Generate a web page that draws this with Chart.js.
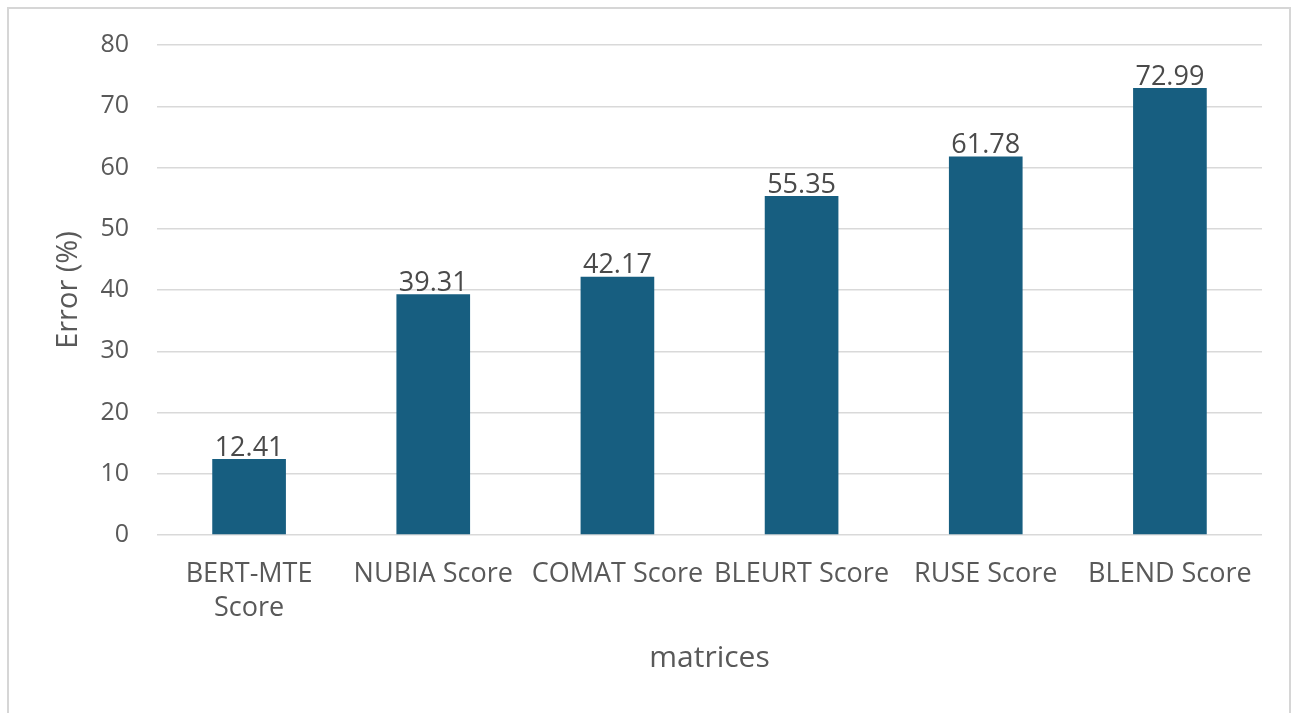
<!DOCTYPE html>
<html>
<head>
<meta charset="utf-8">
<script src="https://cdn.jsdelivr.net/npm/chart.js@4"></script>
<style>
  html, body { margin: 0; padding: 0; background: #fff; }
  #frame { position: absolute; left: 7px; top: 7px; width: 1284px; height: 720px; border: 2px solid #d6d6d6; box-sizing: border-box; }
  #wrap { position: absolute; left: 0; top: 0; width: 1295px; height: 713px; }
</style>
</head>
<body>
<div id="frame"></div>
<div id="wrap"><canvas id="chart"></canvas></div>
<script>
// chart data
const categories = [['BERT-MTE', 'Score'], 'NUBIA Score', 'COMAT Score', 'BLEURT Score', 'RUSE Score', 'BLEND Score'];
const errorValues = [12.41, 39.31, 42.17, 55.35, 61.78, 72.99];
const yTicks = [0, 10, 20, 30, 40, 50, 60, 70, 80];

const textColor = '#595959';
const fontFamily = '"Open Sans", "Liberation Sans", sans-serif';

// labels above each bar, Excel style
const barLabels = {
    id: 'barLabels',
    afterDatasetsDraw(chart) {
        const ctx = chart.ctx;
        const meta = chart.getDatasetMeta(0);
        ctx.save();
        ctx.font = '27px ' + fontFamily;
        ctx.fillStyle = '#4a4a4a';
        ctx.textAlign = 'center';
        ctx.textBaseline = 'middle';
        meta.data.forEach((bar, i) => {
            ctx.fillText(errorValues[i].toFixed(2), bar.x, bar.y - 11);
        });
        ctx.restore();
    }
};

new Chart(document.getElementById('chart'), {
    type: 'bar',
    data: {
        labels: categories,
        datasets: [{
            label: 'Error (%)',
            data: errorValues,
            backgroundColor: '#175e80',
            borderWidth: 0,
            barPercentage: 0.4,
            categoryPercentage: 1
        }]
    },
    options: {
        responsive: true,
        maintainAspectRatio: false,
        animation: false,
        layout: { padding: { top: 45, right: 33, bottom: 0, left: 0 } },
        plugins: {
            legend: { display: false },
            tooltip: { enabled: false }
        },
        scales: {
            x: {
                grid: { display: false },
                border: { display: false },
                ticks: {
                    color: textColor,
                    font: { family: fontFamily, size: 27, lineHeight: 1.26 },
                    maxRotation: 0,
                    autoSkip: false,
                    padding: 14
                },
                title: {
                    display: true,
                    text: 'matrices',
                    color: textColor,
                    font: { family: fontFamily, size: 30 },
                    padding: { top: 0, bottom: 37 }
                },
                afterFit(scale) { scale.height = 178; }
            },
            y: {
                min: 0,
                max: 80,
                afterBuildTicks(scale) { scale.ticks = yTicks.map(v => ({ value: v })); },
                grid: { color: '#d9d9d9', lineWidth: 1.5, drawTicks: false },
                border: { display: false },
                ticks: {
                    color: textColor,
                    font: { family: fontFamily, size: 25 },
                    padding: 28
                },
                title: {
                    display: true,
                    text: 'Error (%)',
                    color: textColor,
                    font: { family: fontFamily, size: 29 },
                    padding: { top: 51, bottom: 0 }
                },
                afterFit(scale) { scale.width = 157; }
            }
        }
    },
    plugins: [barLabels]
});
</script>
</body>
</html>
